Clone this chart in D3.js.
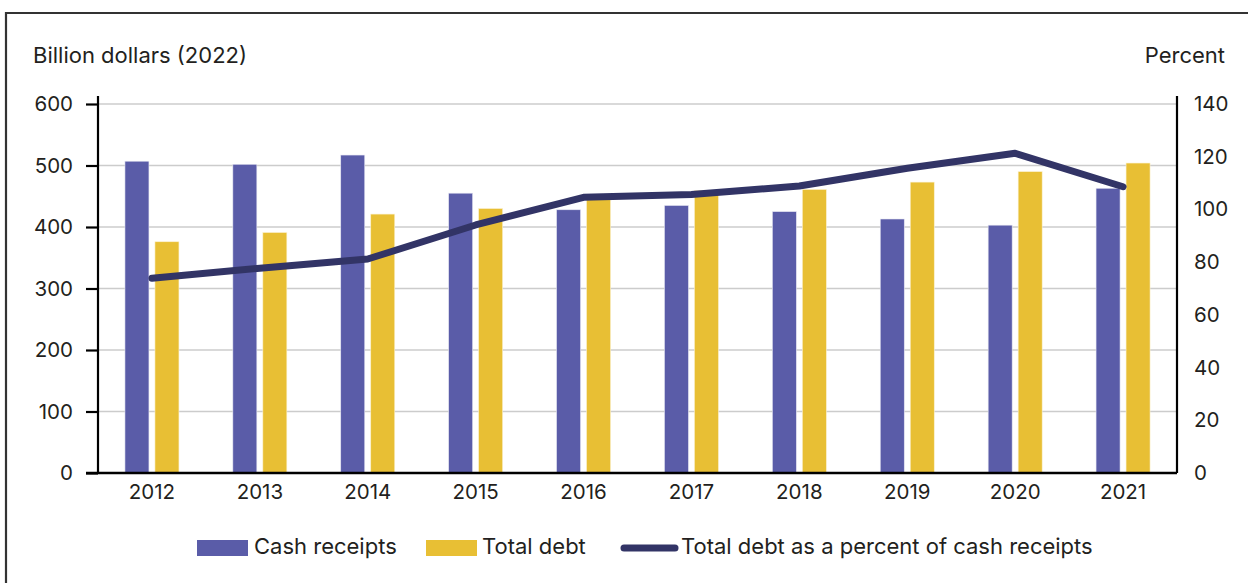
<!DOCTYPE html>
<html>
<head>
<meta charset="utf-8">
<script src="https://cdn.jsdelivr.net/npm/d3@7"></script>
<style>
  html, body { margin: 0; padding: 0; background: #fff; }
  svg { display: block; font-family: Inter, "Noto Sans", sans-serif; }
</style>
</head>
<body>
<svg id="chart" width="1248" height="583"></svg>
<script>
// Farm sector cash receipts and debt, 2012–2021
const years = ["2012", "2013", "2014", "2015", "2016", "2017", "2018", "2019", "2020", "2021"];
const cashReceipts = [507, 502, 517, 455, 428, 435, 425, 413, 403, 463];   // billion dollars (2022)
const totalDebt = [376, 391, 421, 430, 448, 459, 461, 473, 490, 504];      // billion dollars (2022)
const debtPercent = [73.9, 77.7, 81.2, 94.1, 104.6, 105.7, 108.9, 115.6, 121.3, 108.6]; // percent
const leftTicks = [0, 100, 200, 300, 400, 500, 600];
const rightTicks = [0, 20, 40, 60, 80, 100, 120, 140];

const colors = { cash: "#5a5ca8", debt: "#e8bf34", line: "#323466", text: "#231f20" };
const tickFont = 20.5, labelFont = 22;

const svg = d3.select("#chart");
const margin = { left: 98, right: 1177, top: 104, bottom: 473 };

// Frame around the panel
svg.append("path")
  .attr("d", `M6,590 L6,13 L1260,13`)
  .attr("fill", "none").attr("stroke", "#333").attr("stroke-width", 2.2);

const x = d3.scaleBand().domain(years).range([margin.left, margin.right]).paddingInner(0).paddingOuter(0);
const yL = d3.scaleLinear().domain([0, 600]).range([margin.bottom, margin.top]);
const yR = d3.scaleLinear().domain([0, 140]).range([margin.bottom, margin.top]);

// Gridlines
svg.append("g").selectAll("line").data(leftTicks.filter(d => d > 0)).join("line")
  .attr("x1", margin.left).attr("x2", margin.right)
  .attr("y1", d => yL(d)).attr("y2", d => yL(d))
  .attr("stroke", "#cccccc").attr("stroke-width", 1.3);

// Bars
const barW = 24, gap = 6;
const groups = svg.append("g").selectAll("g").data(years).join("g")
  .attr("transform", d => `translate(${x(d) + x.bandwidth() / 2},0)`);
groups.append("rect")
  .attr("x", -barW - gap / 2).attr("width", barW)
  .attr("y", (d, i) => yL(cashReceipts[i])).attr("height", (d, i) => yL(0) - yL(cashReceipts[i]))
  .attr("fill", colors.cash).attr("stroke", "#e6e6f2").attr("stroke-width", 0.6);
groups.append("rect")
  .attr("x", gap / 2).attr("width", barW)
  .attr("y", (d, i) => yL(totalDebt[i])).attr("height", (d, i) => yL(0) - yL(totalDebt[i]))
  .attr("fill", colors.debt).attr("stroke", "#fbf1cf").attr("stroke-width", 0.6);

// Left axis
const leftAxis = svg.append("g").attr("transform", `translate(${margin.left},0)`)
  .call(d3.axisLeft(yL).tickValues(leftTicks).tickSize(12).tickPadding(13).tickFormat(d3.format("d")));
leftAxis.select(".domain").attr("stroke", "#000").attr("stroke-width", 2.2).attr("d", `M0,${margin.top - 8}V${margin.bottom}`);
leftAxis.selectAll(".tick line").attr("stroke", "#000").attr("stroke-width", 2.2);
leftAxis.selectAll(".tick text").attr("fill", colors.text).attr("font-size", tickFont).attr("font-family", "Inter");

// Right axis
const rightAxis = svg.append("g").attr("transform", `translate(${margin.right},0)`)
  .call(d3.axisRight(yR).tickValues(rightTicks).tickSize(0).tickPadding(17).tickFormat(d3.format("d")));
rightAxis.select(".domain").attr("stroke", "#000").attr("stroke-width", 2.2).attr("d", `M0,${margin.top - 8}V${margin.bottom}`);
rightAxis.selectAll(".tick text").attr("fill", colors.text).attr("font-size", tickFont).attr("font-family", "Inter");

// Bottom axis
const bottomAxis = svg.append("g").attr("transform", `translate(0,${margin.bottom})`)
  .call(d3.axisBottom(x).tickSize(0).tickPadding(11));
bottomAxis.select(".domain").attr("stroke", "#000").attr("stroke-width", 2.4).attr("d", `M${margin.left - 12},0H${margin.right}`);
bottomAxis.selectAll(".tick text").attr("fill", colors.text).attr("font-size", tickFont).attr("font-family", "Inter");

// Ratio line
const line = d3.line().x((d, i) => x(years[i]) + x.bandwidth() / 2).y(d => yR(d));
svg.append("path").datum(debtPercent)
  .attr("d", line).attr("fill", "none").attr("stroke", colors.line)
  .attr("stroke-width", 7).attr("stroke-linecap", "round").attr("stroke-linejoin", "round");

// Axis titles
svg.append("text").attr("x", 33).attr("y", 63).attr("font-size", labelFont).attr("fill", colors.text).text("Billion dollars (2022)");
svg.append("text").attr("x", 1225).attr("y", 63).attr("text-anchor", "end").attr("font-size", labelFont).attr("fill", colors.text).text("Percent");

// Legend
const legend = svg.append("g");
legend.append("rect").attr("x", 197).attr("y", 540).attr("width", 51).attr("height", 16).attr("fill", colors.cash);
legend.append("text").attr("x", 254).attr("y", 554).attr("font-size", labelFont).attr("fill", colors.text).text("Cash receipts");
legend.append("rect").attr("x", 426).attr("y", 540).attr("width", 51).attr("height", 16).attr("fill", colors.debt);
legend.append("text").attr("x", 482).attr("y", 554).attr("font-size", labelFont).attr("fill", colors.text).text("Total debt");
legend.append("line").attr("x1", 624).attr("x2", 675).attr("y1", 548).attr("y2", 548)
  .attr("stroke", colors.line).attr("stroke-width", 7).attr("stroke-linecap", "round");
legend.append("text").attr("x", 681).attr("y", 554).attr("font-size", labelFont).attr("fill", colors.text).text("Total debt as a percent of cash receipts");
</script>
</body>
</html>
